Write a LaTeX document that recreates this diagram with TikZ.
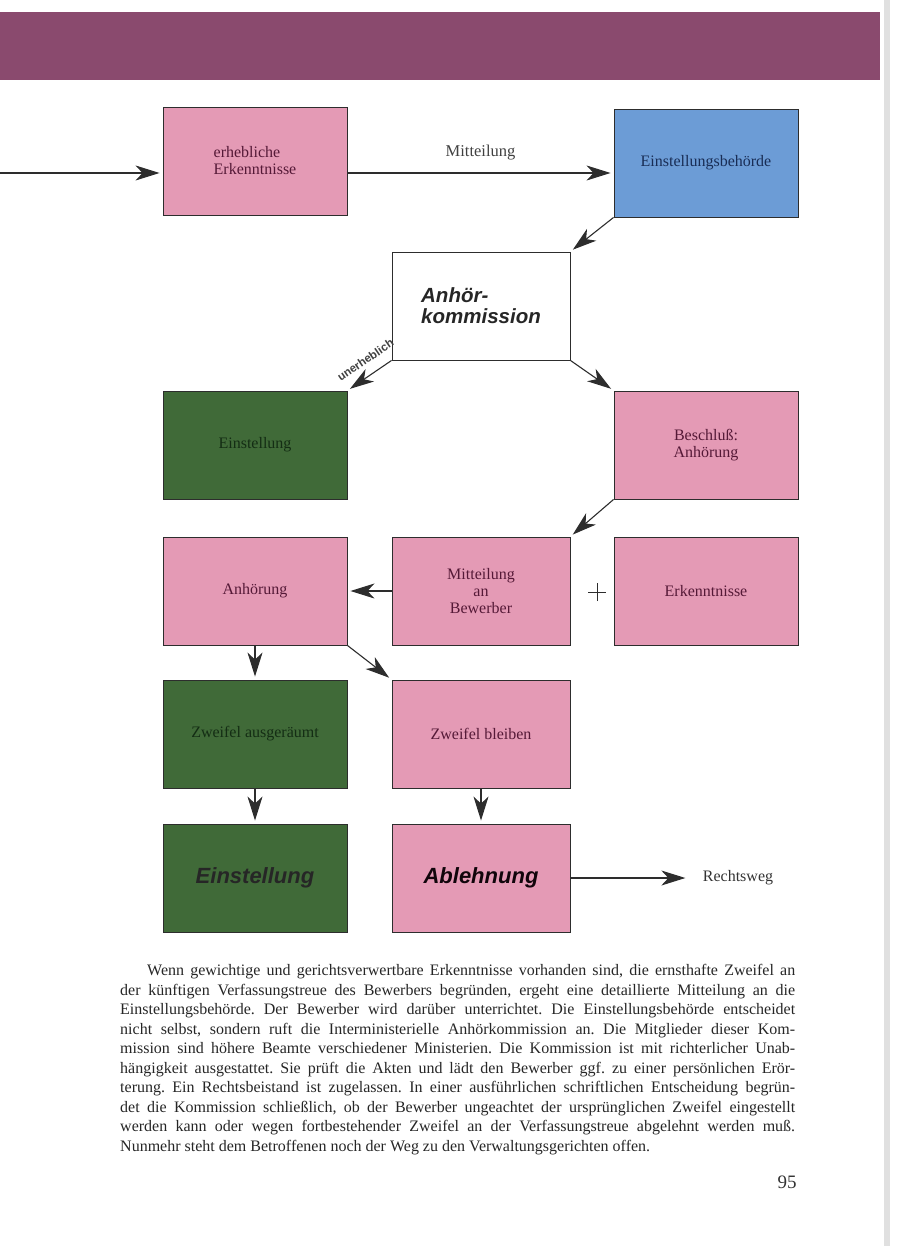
\documentclass[tikz,border=0pt]{standalone}
\usepackage{fontspec}
\setmainfont{Liberation Serif}
\setsansfont{Liberation Sans}
\usetikzlibrary{arrows.meta}

\definecolor{balken}{RGB}{138,74,110}
\definecolor{rosa}{RGB}{228,154,181}
\definecolor{blau}{RGB}{108,156,214}
\definecolor{gruen}{RGB}{64,106,56}
\definecolor{rosatext}{RGB}{85,25,55}
\definecolor{blautext}{RGB}{25,45,85}
\definecolor{gruentext}{RGB}{20,45,20}
\definecolor{linie}{RGB}{45,45,45}

\tikzset{
  kasten/.style={draw=linie, line width=0.9pt, minimum width=184pt, minimum height=108pt,
    inner sep=0pt, align=center, font=\fontsize{16}{17}\selectfont},
  rosakasten/.style={kasten, fill=rosa, text=rosatext},
  blaukasten/.style={kasten, fill=blau, text=blautext},
  gruenkasten/.style={kasten, fill=gruen, text=gruentext},
  weisskasten/.style={kasten, fill=white, text=black!85},
  fett/.style={font=\sffamily\bfseries\itshape\fontsize{22}{21}\selectfont},
  pfeil/.style={draw=linie, line width=1.1pt, -{Stealth[length=24pt,width=15pt,inset=7pt]}, shorten >=3pt},
}

\begin{document}
\begin{tikzpicture}[x=1pt, y=-1pt]
\useasboundingbox (0,0) rectangle (900,1246);
\fill[balken] (0,12) rectangle (880,80);
\fill[black!12] (884,0) rectangle (890,1246);

% Kaesten
\node[rosakasten, align=left] (erk) at (255,161) {erhebliche\\Erkenntnisse};
\node[blaukasten] (behoerde) at (706,163) {Einstellungsbehörde};
\node[weisskasten, minimum width=178pt, fett, font=\sffamily\bfseries\itshape\fontsize{20.5}{21}\selectfont, align=left] (kommission) at (481,306) {Anhör-\\kommission};
\node[gruenkasten] (einst) at (255,445) {Einstellung};
\node[rosakasten] (beschluss) at (706,445) {Beschluß:\\Anhörung};
\node[rosakasten] (anh) at (255,591) {Anhörung};
\node[rosakasten, minimum width=178pt] (mitbew) at (481,591) {Mitteilung\\an\\Bewerber};
\node[rosakasten] (erk2) at (706,591) {Erkenntnisse};
\node[gruenkasten] (ausger) at (255,734) {Zweifel ausgeräumt};
\node[rosakasten, minimum width=178pt] (bleiben) at (481,734) {Zweifel bleiben};
\node[gruenkasten, fett, text=black!85] (einst2) at (255,878) {Einstellung};
\node[rosakasten, minimum width=178pt, fett, text=black!80!rosatext] (ablehnung) at (481,878) {Ablehnung};
\node[font=\fontsize{16}{17}\selectfont, text=black!80] (rechtsweg) at (738,878) {Rechtsweg};

% Pfeile
\coordinate (start) at (0,173);
\draw[pfeil] (start) -- ([yshift=-12pt]erk.west);
\draw[pfeil] ([yshift=-12pt]erk.east) -- node[above=9pt, font=\fontsize{16.5}{17}\selectfont, text=black!75]{Mitteilung} ([yshift=-10pt]behoerde.west);
\draw[pfeil] (behoerde.south west) -- (kommission.north east);
\draw[pfeil] (kommission.south west) -- node[sloped, above=7pt, pos=0.4, font=\sffamily\bfseries\fontsize{11.5}{12}\selectfont, text=black!75]{unerheblich} (einst.north east);
\draw[pfeil] (kommission.south east) -- (beschluss.north west);
\draw[pfeil] (beschluss.south west) -- (mitbew.north east);
\draw[pfeil] (mitbew.west) -- (anh.east);
\draw[pfeil] (anh.south) -- (ausger.north);
\draw[pfeil] (anh.south east) -- (bleiben.north west);
\draw[pfeil] (ausger.south) -- (einst2.north);
\draw[pfeil] (bleiben.south) -- (ablehnung.north);
\draw[pfeil, shorten >=14pt] (ablehnung.east) -- (rechtsweg.west);

% Plus
\coordinate (plus) at (597,592);
\draw[linie, line width=0.8pt] ([xshift=-9pt]plus) -- ([xshift=9pt]plus) ([yshift=-9pt]plus) -- ([yshift=9pt]plus);

% Text
\node[anchor=north west, inner sep=0pt, text width=675pt, align=justify, text=black!85,
  font=\fontsize{16}{19.55}\selectfont] (absatz) at (120,964) {%
\frenchspacing\tolerance=9999\relax\hyphenpenalty=10000\relax
\hspace*{27pt}Wenn gewichtige und gerichtsverwertbare Erkenntnisse vorhanden sind, die ernsthafte Zweifel an\linebreak
der künftigen Verfassungstreue des Bewerbers begründen, ergeht eine detaillierte Mitteilung an die\linebreak
Einstellungsbehörde. Der Bewerber wird darüber unterrichtet. Die Einstellungsbehörde entscheidet\linebreak
nicht selbst, sondern ruft die Interministerielle Anhörkommission an. Die Mitglieder dieser Kom-\linebreak
mission sind höhere Beamte verschiedener Ministerien. Die Kommission ist mit richterlicher Unab-\linebreak
hängigkeit ausgestattet. Sie prüft die Akten und lädt den Bewerber ggf. zu einer persönlichen Erör-\linebreak
terung. Ein Rechtsbeistand ist zugelassen. In einer ausführlichen schriftlichen Entscheidung begrün-\linebreak
det die Kommission schließlich, ob der Bewerber ungeachtet der ursprünglichen Zweifel eingestellt\linebreak
werden kann oder wegen fortbestehender Zweifel an der Verfassungstreue abgelehnt werden muß.\linebreak
Nunmehr steht dem Betroffenen noch der Weg zu den Verwaltungsgerichten offen.};
\node[font=\fontsize{19}{20}\selectfont, text=black!80] (seite) at (787,1182) {95};
\end{tikzpicture}
\end{document}
